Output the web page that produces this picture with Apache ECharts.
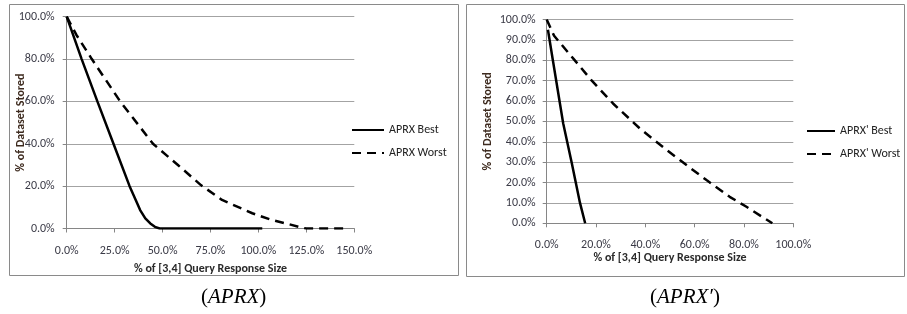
<!DOCTYPE html>
<html>
<head>
<meta charset="utf-8">
<script src="https://cdn.jsdelivr.net/npm/echarts@6/dist/echarts.min.js"></script>
<style>
html,body{margin:0;padding:0;background:#fff;}
#c{width:907px;height:314px;}
</style>
</head>
<body>
<div id="c"></div>
<script>
// ---- data (x = % of [3,4] query response size, y = % of dataset stored) ----
const xTicksA = [0, 25, 50, 75, 100, 125, 150];
const yTicksA = [0, 20, 40, 60, 80, 100];
const xTicksB = [0, 20, 40, 60, 80, 100];
const yTicksB = [0, 10, 20, 30, 40, 50, 60, 70, 80, 90, 100];

const namesA = ['APRX Best', 'APRX Worst'];
const namesB = ["APRX' Best", "APRX' Worst"];

const bestA_x  = [0, 7.8, 16, 24.4, 32.8, 36, 38.3, 41, 43.6, 46, 48.5, 75, 102];
const bestA_y  = [100, 80, 60, 40, 20, 13.5, 8.7, 4.8, 2.4, 0.8, 0, 0, 0];
const worstA_x = [0, 5, 13.1, 27.9, 45, 58, 70, 81, 96.8, 106, 116, 123, 125, 145.6];
const worstA_y = [100, 91.5, 80, 60, 40, 30, 20.5, 13.5, 7.2, 4.3, 2, 0.3, 0, 0];

const bestB_x  = [0.5, 2.5, 5.2, 6.7, 10.1, 13.5, 15.6];
const bestB_y  = [95, 80, 60, 49, 30, 10, 0];
const worstB_x = [0, 3, 10.8, 18.2, 26.9, 37.7, 47.8, 54, 64.8, 74.2, 81, 91.5];
const worstB_y = [100, 92, 80.8, 70.1, 58.8, 46.6, 36.8, 31, 21.2, 13, 8.1, 0];

const xTitle = '% of [3,4] Query Response Size';
const yTitle = '% of Dataset Stored';
const captions = ['APRX', "APRX\u2032"];

// ---- helpers ----
const zip = (xs, ys) => xs.map((x, i) => [x, ys[i]]);
const FONT = 'Carlito, Lato, sans-serif';
const pct = v => v.toFixed(1) + '%';

function xAxisCfg(ticks, gridIndex, labelMargin, nameGap) {
  return {
    type: 'value', gridIndex,
    min: ticks[0], max: ticks[ticks.length - 1], interval: ticks[1] - ticks[0],
    name: xTitle, nameLocation: 'middle', nameGap, nameMoveOverlap: false,
    nameTextStyle: { fontFamily: FONT, fontSize: 12, fontWeight: 'bold', color: '#2a2a2a' },
    axisLine: { show: true, lineStyle: { color: '#868686', width: 1 } },
    axisTick: { show: true, length: 4, lineStyle: { color: '#868686' } },
    axisLabel: { fontFamily: FONT, fontSize: 12, color: '#3a3a46', margin: labelMargin, formatter: pct },
    splitLine: { show: false }
  };
}
function yAxisCfg(ticks, gridIndex, labelMargin, nameGap) {
  return {
    type: 'value', gridIndex,
    min: ticks[0], max: ticks[ticks.length - 1], interval: ticks[1] - ticks[0],
    name: yTitle, nameLocation: 'middle', nameGap, nameRotate: 90, nameMoveOverlap: false,
    nameTextStyle: { fontFamily: FONT, fontSize: 12, fontWeight: 'bold', color: '#3d2a1e' },
    axisLine: { show: true, lineStyle: { color: '#868686', width: 1 } },
    axisTick: { show: true, length: 4, lineStyle: { color: '#868686' } },
    axisLabel: { fontFamily: FONT, fontSize: 12, color: '#3a3a46', margin: labelMargin, formatter: pct },
    splitLine: { show: true, lineStyle: { color: '#a3a3a3', width: 1 } }
  };
}
function lineSeries(name, data, idx, dashed) {
  return {
    name, type: 'line', xAxisIndex: idx, yAxisIndex: idx,
    data, symbol: 'none', smooth: false, animation: false,
    lineStyle: { color: '#000', width: 2.5, type: dashed ? [9, 6] : 'solid' },
    itemStyle: { color: '#000' }
  };
}
function legendCfg(names, left, top, w, gap) {
  return {
    data: names, orient: 'vertical', left, top, padding: 0,
    itemWidth: w, itemHeight: 14, itemGap: gap,
    itemStyle: { opacity: 0 },
    textStyle: { fontFamily: FONT, fontSize: 12, color: '#222' },
    selectedMode: false
  };
}

const chart = echarts.init(document.getElementById('c'), null, { renderer: 'canvas' });
chart.setOption({
  animation: false,
  backgroundColor: '#fff',
  grid: [
    { left: 66.7, top: 16.7, width: 287.6, height: 211.8, outerBoundsMode: 'none' },
    { left: 546.7, top: 19.5, width: 246.6, height: 203.8, outerBoundsMode: 'none' }
  ],
  xAxis: [xAxisCfg(xTicksA, 0, 16, 34), xAxisCfg(xTicksB, 1, 15.5, 29)],
  yAxis: [yAxisCfg(yTicksA, 0, 12, 40), yAxisCfg(yTicksB, 1, 11, 53)],
  legend: [legendCfg(namesA, 351, 124, 32, 11), legendCfg(namesB, 806, 125, 28, 11)],
  series: [
    lineSeries(namesA[0], zip(bestA_x, bestA_y), 0, false),
    lineSeries(namesA[1], zip(worstA_x, worstA_y), 0, true),
    lineSeries(namesB[0], zip(bestB_x, bestB_y), 1, false),
    lineSeries(namesB[1], zip(worstB_x, worstB_y), 1, true)
  ],
  graphic: [
    { type: 'rect', shape: { x: 9.5, y: 4.5, width: 449, height: 271 }, style: { fill: 'none', stroke: '#8a8a8a', lineWidth: 1 }, silent: true },
    { type: 'rect', shape: { x: 466.5, y: 4.5, width: 438, height: 272 }, style: { fill: 'none', stroke: '#8a8a8a', lineWidth: 1 }, silent: true },
    { type: 'text', left: 234 - 33, top: 287, silent: true,
      style: { text: '{p|(}{m|' + captions[0] + '}{p|)}', rich: {
        p: { fontFamily: 'Liberation Serif', fontSize: 21, fill: '#000' },
        m: { fontFamily: 'Liberation Serif', fontStyle: 'italic', fontSize: 21, fill: '#000' } } } },
    { type: 'text', left: 686 - 36, top: 287, silent: true,
      style: { text: '{p|(}{m|' + captions[1] + '}{p|)}', rich: {
        p: { fontFamily: 'Liberation Serif', fontSize: 21, fill: '#000' },
        m: { fontFamily: 'Liberation Serif', fontStyle: 'italic', fontSize: 21, fill: '#000' } } } }
  ]
});
</script>
</body>
</html>
